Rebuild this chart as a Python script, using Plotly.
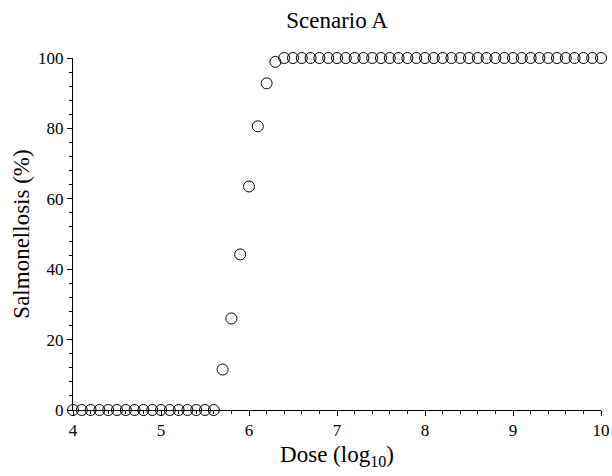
import plotly.graph_objects as go

dose = [round(4 + 0.1 * i, 1) for i in range(61)]
salmonellosis = ([0.0] * 17 +
                 [11.5, 26.0, 44.2, 63.5, 80.6, 92.8, 98.9] +
                 [100.0] * 37)

fig = go.Figure()
fig.add_trace(go.Scatter(
    x=dose, y=salmonellosis, mode="markers",
    marker=dict(symbol="circle-open", size=11, color="black", line=dict(width=1)),
    cliponaxis=False, showlegend=False,
))

font = "'Liberation Serif', 'Times New Roman', serif"
fig.update_layout(
    width=612, height=476,
    margin=dict(l=73, r=11, t=58, b=66),
    paper_bgcolor="white", plot_bgcolor="white",
    font=dict(family=font, color="black", size=17),
    title=dict(text="Scenario A", x=337 / 612, xanchor="center",
               y=1 - 20 / 476, yanchor="middle",
               font=dict(family=font, size=23, color="black")),
)
fig.update_xaxes(
    range=[4, 10], showline=True, linecolor="black", linewidth=1,
    showgrid=False, zeroline=False, automargin=False,
    ticks="outside", ticklen=5, tickcolor="black", dtick=1, tick0=4,
    minor=dict(dtick=0.2, ticklen=3, ticks="outside", tickcolor="black", showgrid=False),
    tickfont=dict(family=font, size=17, color="black"),
    title=dict(text="Dose (log<sub>10</sub>)", font=dict(family=font, size=23), standoff=6),
)
fig.update_yaxes(
    range=[0, 100], showline=True, linecolor="black", linewidth=1,
    showgrid=False, zeroline=False, automargin=False,
    ticks="outside", ticklen=5, tickcolor="black", dtick=20, tick0=0,
    minor=dict(dtick=4, ticklen=3, ticks="outside", tickcolor="black", showgrid=False),
    tickfont=dict(family=font, size=17, color="black"),
    title=dict(text="Salmonellosis (%)", font=dict(family=font, size=23), standoff=2),
)

fig.write_html("out.html")
